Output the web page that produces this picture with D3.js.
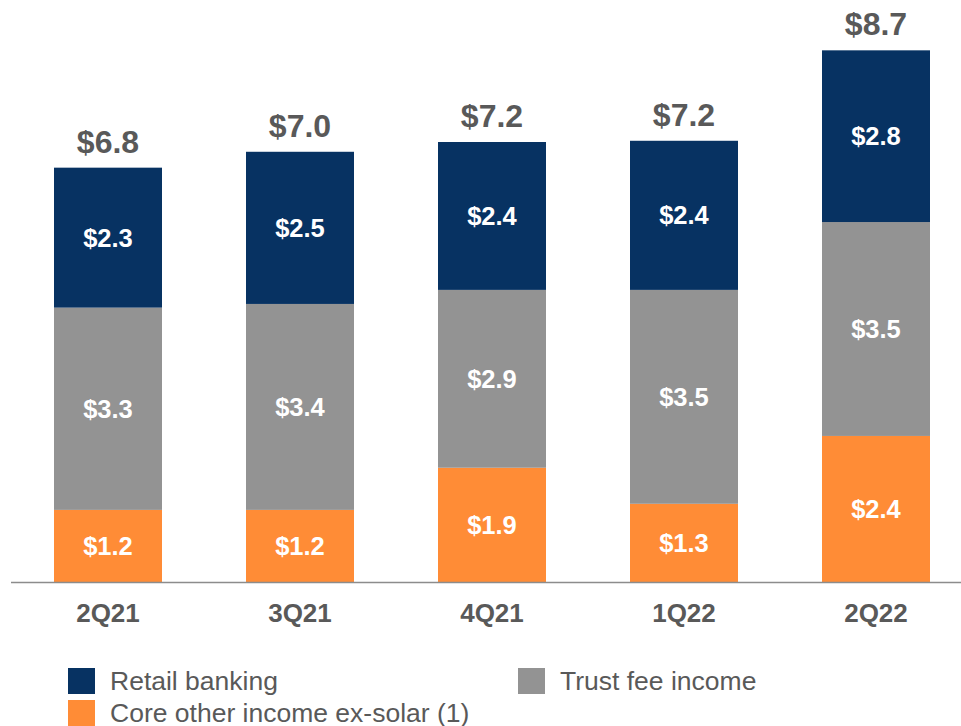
<!DOCTYPE html>
<html>
<head>
<meta charset="utf-8">
<script src="https://cdn.jsdelivr.net/npm/d3@7/dist/d3.min.js"></script>
<style>
  body { margin: 0; background: #fff; }
  svg { display: block; font-family: "Liberation Sans", Arial, sans-serif; }
</style>
</head>
<body>
<svg id="chart" width="961" height="726"></svg>
<script>
// Data (in $ millions)
const quarters = ['2Q21', '3Q21', '4Q21', '1Q22', '2Q22'];
const coreOther = [1.18, 1.18, 1.87, 1.28, 2.39];
const trustFee = [3.31, 3.37, 2.91, 3.50, 3.50];
const retail = [2.29, 2.49, 2.42, 2.44, 2.81];

const seriesNames = ['Core other income ex-solar (1)', 'Trust fee income', 'Retail banking'];
const seriesColors = ['#ff8c36', '#939393', '#073262'];

const rows = quarters.map((q, i) => ({
    quarter: q,
    core: coreOther[i],
    trust: trustFee[i],
    retail: retail[i]
}));

const svg = d3.select('#chart');
const fmt = d3.format('.1f');

const x = d3.scaleBand()
    .domain(quarters)
    .range([6, 978])
    .paddingInner(0.4375)
    .paddingOuter(0.25);

const y = d3.scaleLinear()
    .domain([0, 9])
    .range([582, 32]);

const stack = d3.stack().keys(['core', 'trust', 'retail']);
const layers = stack(rows);

// Bars
const layerG = svg.selectAll('.layer')
    .data(layers)
    .enter().append('g')
    .attr('class', 'layer')
    .attr('fill', (d, i) => seriesColors[i]);

layerG.selectAll('rect')
    .data(d => d)
    .enter().append('rect')
    .attr('x', d => x(d.data.quarter))
    .attr('width', x.bandwidth())
    .attr('y', d => y(d[1]))
    .attr('height', d => y(d[0]) - y(d[1]));

// Segment labels
layerG.selectAll('text')
    .data(d => d)
    .enter().append('text')
    .attr('x', d => x(d.data.quarter) + x.bandwidth() / 2)
    .attr('y', d => (y(d[0]) + y(d[1])) / 2)
    .attr('dy', '0.35em')
    .attr('text-anchor', 'middle')
    .attr('fill', '#fff')
    .attr('font-weight', 'bold')
    .attr('font-size', 25.5)
    .text(d => '$' + fmt(d[1] - d[0]));

// Totals
svg.selectAll('.total')
    .data(rows)
    .enter().append('text')
    .attr('class', 'total')
    .attr('x', d => x(d.quarter) + x.bandwidth() / 2)
    .attr('y', d => y(d.core + d.trust + d.retail) - 15)
    .attr('text-anchor', 'middle')
    .attr('fill', '#595959')
    .attr('font-weight', 'bold')
    .attr('font-size', 32)
    .text(d => '$' + fmt(d.core + d.trust + d.retail));

// Baseline
svg.append('line')
    .attr('x1', 11).attr('x2', 961)
    .attr('y1', 582.5).attr('y2', 582.5)
    .attr('stroke', '#8c8c8c')
    .attr('stroke-width', 1.5);

// Category labels
svg.selectAll('.cat')
    .data(quarters)
    .enter().append('text')
    .attr('class', 'cat')
    .attr('x', d => x(d) + x.bandwidth() / 2)
    .attr('y', 622)
    .attr('text-anchor', 'middle')
    .attr('fill', '#595959')
    .attr('font-weight', 'bold')
    .attr('font-size', 26)
    .text(d => d);

// Legend
const legendItems = [
    { name: seriesNames[2], color: seriesColors[2], x: 68, y: 668 },
    { name: seriesNames[1], color: seriesColors[1], x: 518, y: 668 },
    { name: seriesNames[0], color: seriesColors[0], x: 68, y: 700 }
];

const legend = svg.selectAll('.legend')
    .data(legendItems)
    .enter().append('g')
    .attr('class', 'legend')
    .attr('transform', d => `translate(${d.x}, ${d.y})`);

legend.append('rect')
    .attr('width', 27)
    .attr('height', 26)
    .attr('fill', d => d.color);

legend.append('text')
    .attr('x', 42)
    .attr('y', 22)
    .attr('fill', '#595959')
    .attr('font-size', 26.5)
    .text(d => d.name);
</script>
</body>
</html>
